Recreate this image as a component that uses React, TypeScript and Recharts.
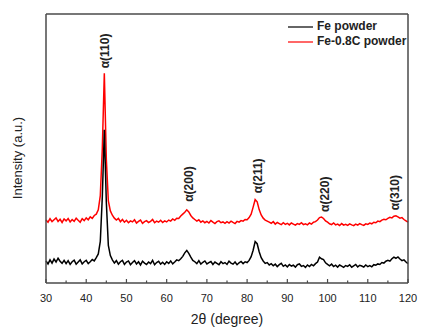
import React from 'react';
import { LineChart, Line, XAxis, YAxis, ReferenceDot, Legend } from 'recharts';

// 2θ positions (degree)
const ANGLES = [
  30, 30.5, 31, 31.5, 32, 32.5, 33, 33.5, 34, 34.5,
  35, 35.5, 36, 36.5, 37, 37.5, 38, 38.5, 39, 39.5,
  40, 40.5, 41, 41.5, 42, 42.5, 43, 43.5, 44, 44.5,
  45, 45.5, 46, 46.5, 47, 47.5, 48, 48.5, 49, 49.5,
  50, 50.5, 51, 51.5, 52, 52.5, 53, 53.5, 54, 54.5,
  55, 55.5, 56, 56.5, 57, 57.5, 58, 58.5, 59, 59.5,
  60, 60.5, 61, 61.5, 62, 62.5, 63, 63.5, 64, 64.5,
  65, 65.5, 66, 66.5, 67, 67.5, 68, 68.5, 69, 69.5,
  70, 70.5, 71, 71.5, 72, 72.5, 73, 73.5, 74, 74.5,
  75, 75.5, 76, 76.5, 77, 77.5, 78, 78.5, 79, 79.5,
  80, 80.5, 81, 81.5, 82, 82.5, 83, 83.5, 84, 84.5,
  85, 85.5, 86, 86.5, 87, 87.5, 88, 88.5, 89, 89.5,
  90, 90.5, 91, 91.5, 92, 92.5, 93, 93.5, 94, 94.5,
  95, 95.5, 96, 96.5, 97, 97.5, 98, 98.5, 99, 99.5,
  100, 100.5, 101, 101.5, 102, 102.5, 103, 103.5, 104, 104.5,
  105, 105.5, 106, 106.5, 107, 107.5, 108, 108.5, 109, 109.5,
  110, 110.5, 111, 111.5, 112, 112.5, 113, 113.5, 114, 114.5,
  115, 115.5, 116, 116.5, 117, 117.5, 118, 118.5, 119, 119.5,
  120,
];

// Fe powder (a.u., offset lower trace)
const FE = [
  8.2, 7.1, 8.6, 7.4, 8.9, 7.8, 9.2, 8.1, 7.3, 8.4,
  7.2, 8.3, 6.9, 7.9, 8.5, 7.0, 7.8, 8.6, 7.1, 7.9,
  8.4, 7.2, 7.9, 8.7, 8.2, 9.4, 10.8, 15.5, 32, 57,
  30, 14, 10.2, 8.6, 7.4, 8.3, 7.0, 7.9, 8.4, 6.9,
  7.8, 8.2, 6.8, 7.6, 8.3, 7.1, 7.9, 6.7, 8.1, 7.4,
  6.9, 7.8, 7.2, 8.4, 6.8, 7.6, 8.1, 7.0, 7.7, 6.9,
  7.9, 7.3, 8.2, 7.1, 7.8, 8.6, 8.3, 9.0, 9.9, 11.2,
  12.1, 11.0, 9.6, 8.4, 7.9, 7.2, 8.3, 7.0, 7.7, 8.2,
  7.1, 7.6, 8.0, 6.9, 7.8, 7.3, 6.8, 7.9, 7.2, 7.6,
  6.9, 8.1, 7.4, 7.0, 7.8, 6.8, 7.5, 8.0, 7.2, 7.9,
  7.6, 8.4, 9.8, 12.2, 15.4, 14.6, 11.6, 9.4, 8.2, 7.3,
  7.6, 6.7, 7.2, 6.4, 7.0, 6.1, 6.8, 7.3, 6.2, 6.7,
  6.0, 6.9, 6.3, 6.6, 5.9, 6.8, 7.1, 6.2, 6.5, 5.8,
  6.7, 6.1, 6.9, 6.4, 7.2, 7.8, 9.6, 9.0, 8.7, 7.5,
  6.9, 6.4, 7.0, 6.1, 6.6, 5.9, 6.7, 6.3, 5.8, 6.5,
  6.2, 6.8, 5.9, 6.4, 6.9, 6.0, 6.6, 6.3, 5.9, 6.7,
  6.1, 6.5, 6.0, 6.8, 6.6, 7.1, 6.9, 7.6, 7.4, 8.1,
  8.4, 8.1, 9.0, 9.6, 9.2, 9.7, 8.9, 8.3, 8.6, 7.8,
  7.2,
];

// Fe-0.8C powder (a.u., offset upper trace)
const FE_C = [
  23.4, 22.6, 23.9, 22.8, 23.5, 24.2, 22.9, 23.7, 22.5, 23.8,
  23.1, 24.0, 22.7, 23.6, 22.9, 24.1, 23.3, 22.6, 23.9, 23.2,
  24.2, 23.5, 24.6, 24.0, 25.1, 25.6, 27.2, 32.5, 50, 78,
  46, 30.5, 26.8, 25.2, 24.1, 23.4, 24.0, 22.8, 23.6, 22.6,
  23.3, 22.4, 23.1, 22.7, 23.5, 22.3, 22.9, 23.4, 22.2, 22.8,
  23.2, 22.5, 22.9, 23.6, 22.4, 23.0, 22.6, 23.3, 22.5, 23.1,
  22.7, 23.4, 23.0, 23.8, 23.3, 24.1, 24.0, 24.9, 25.6, 26.3,
  27.2, 26.4, 25.1, 24.2, 23.6, 23.0, 23.5, 22.6, 23.1, 22.4,
  22.9, 22.3, 23.2, 22.6, 22.1, 22.8, 23.1, 22.4, 22.7, 22.2,
  22.8, 22.3, 23.0, 22.5, 22.1, 22.9, 22.6, 23.2, 23.0, 23.6,
  23.5, 24.3, 25.6, 28.2, 31.0, 30.2, 27.3, 25.3, 24.1, 23.4,
  23.0, 22.6, 22.2, 22.8, 21.9, 22.5, 22.1, 21.7, 22.4, 21.8,
  22.2, 21.6, 22.3, 21.9, 21.5, 22.1, 21.8, 22.4, 21.7, 22.0,
  21.6, 22.3, 21.9, 22.6, 22.8, 23.4, 24.3, 24.5, 24.0, 23.1,
  22.6, 22.0, 21.7, 22.3, 21.6, 21.9, 21.4, 22.1, 21.5, 21.8,
  21.4, 22.0, 21.6, 21.3, 21.9, 21.5, 22.1, 21.7, 21.4, 22.0,
  21.8, 22.3, 22.0, 22.6, 22.4, 23.0, 22.8, 23.4, 23.7, 23.5,
  24.0, 24.4, 24.2, 24.8, 25.0, 24.6, 24.1, 24.3, 23.6, 23.1,
  22.6,
];

const X_TICKS = [30, 35, 40, 45, 50, 55, 60, 65, 70, 75, 80, 85, 90, 95, 100, 105, 110, 115, 120];

const PEAK_NAMES = ['α(110)', 'α(200)', 'α(211)', 'α(220)', 'α(310)'];
const PEAK_ANGLES = [44.6, 65.6, 82.6, 99.3, 116.8];
const PEAK_LABEL_LEVELS = [79.8, 30.2, 33.4, 26.4, 27];

const SERIES = [
  { key: 'fe', name: 'Fe powder', color: '#000000' },
  { key: 'fec', name: 'Fe-0.8C powder', color: '#ff0000' },
];

const FONT = 'Arial, "Liberation Sans", Helvetica, sans-serif';
const FRAME = '#4a4a4a';
const TEXT = '#222222';

const data = ANGLES.map((a, i) => ({ angle: a, fe: FE[i], fec: FE_C[i] }));

const XTick = (props: any) => {
  const { x, y, payload } = props;
  const major = payload.value % 10 === 0;
  return (
    <g>
      <line x1={x} x2={x} y1={y} y2={y - (major ? 4 : 2.5)} stroke={FRAME} strokeWidth={1.2} />
      {major && (
        <text x={x} y={y + 19} textAnchor="middle" fontFamily={FONT} fontSize={11} fill={TEXT}>
          {payload.value}
        </text>
      )}
    </g>
  );
};

const PeakLabel = (text: string) => (p: any) => (
  <text
    x={p.cx}
    y={p.cy}
    transform={`rotate(-90 ${p.cx} ${p.cy})`}
    textAnchor="start"
    dominantBaseline="central"
    fontFamily={FONT}
    fontSize={12}
    fontWeight="bold"
    fill={TEXT}
  >
    {text}
  </text>
);

const LegendBox = () => (
  <div style={{ fontFamily: FONT, fontSize: 12, fontWeight: 'bold', color: TEXT, lineHeight: '15px' }}>
    {SERIES.map(s => (
      <div key={s.key} style={{ display: 'flex', alignItems: 'center', whiteSpace: 'nowrap' }}>
        <svg width={25} height={4} style={{ marginRight: 4 }}>
          <line x1={0} x2={25} y1={2} y2={2} stroke={s.color} strokeWidth={1.2} />
        </svg>
        <span>{s.name}</span>
      </div>
    ))}
  </div>
);

const frameLine = { stroke: FRAME, strokeWidth: 1.5 };

export default function App() {
  return (
    <div style={{ position: 'absolute', left: 0, top: 0, width: 441, height: 336, background: '#fff' }}>
      <LineChart width={441} height={336} data={data} margin={{ top: 13, right: 32, bottom: 23, left: 45 }}>
        <XAxis
          dataKey="angle"
          type="number"
          domain={[30, 120]}
          ticks={X_TICKS}
          interval={0}
          height={30}
          tickSize={0}
          tickMargin={0}
          tickLine={false}
          axisLine={frameLine}
          tick={<XTick />}
          label={(p: any) => {
            const vb = p.viewBox;
            return (
              <text x={vb.x + vb.width / 2} y={324} textAnchor="middle" fontFamily={FONT} fontSize={14} fill={TEXT}>
                2θ (degree)
              </text>
            );
          }}
        />
        {/* top edge of the frame */}
        <XAxis
          xAxisId="top"
          orientation="top"
          dataKey="angle"
          type="number"
          domain={[30, 120]}
          height={1}
          tick={false}
          tickLine={false}
          axisLine={frameLine}
        />
        <YAxis
          type="number"
          domain={[0, 100]}
          width={1}
          tick={false}
          tickLine={false}
          axisLine={frameLine}
          label={() => (
            <text
              x={17}
              y={158}
              transform="rotate(-90 17 158)"
              textAnchor="middle"
              dominantBaseline="central"
              fontFamily={FONT}
              fontSize={13}
              fill={TEXT}
            >
              Intensity (a.u.)
            </text>
          )}
        />
        {/* right edge of the frame */}
        <YAxis
          yAxisId="right"
          orientation="right"
          type="number"
          domain={[0, 100]}
          width={1}
          tick={false}
          tickLine={false}
          axisLine={frameLine}
        />
        <Line type="linear" dataKey="fec" name="Fe-0.8C powder" stroke="#ff0000" strokeWidth={1.5} dot={false} isAnimationActive={false} />
        <Line type="linear" dataKey="fe" name="Fe powder" stroke="#000000" strokeWidth={1.5} dot={false} isAnimationActive={false} />
        {PEAK_NAMES.map((n, i) => (
          <ReferenceDot
            key={n}
            x={PEAK_ANGLES[i]}
            y={PEAK_LABEL_LEVELS[i]}
            r={0}
            ifOverflow="visible"
            shape={PeakLabel(n)}
          />
        ))}
        <Legend
          layout="vertical"
          align="center"
          verticalAlign="middle"
          content={<LegendBox />}
          wrapperStyle={{ top: 19, left: 288, width: 140 }}
        />
      </LineChart>
    </div>
  );
}
